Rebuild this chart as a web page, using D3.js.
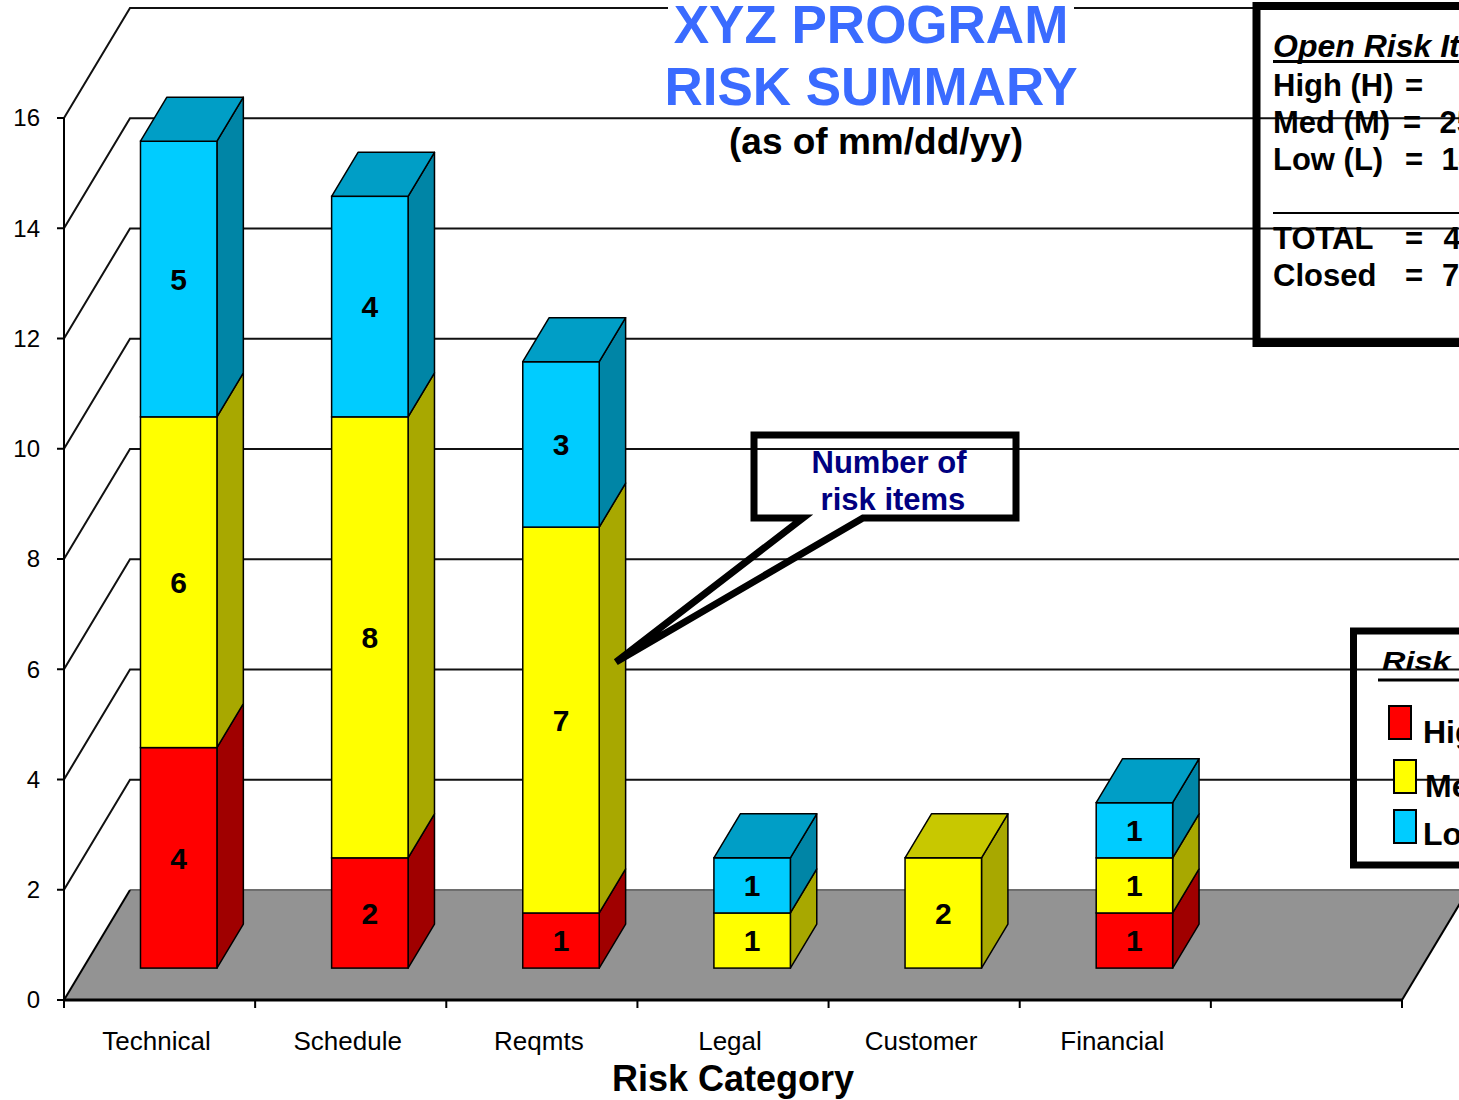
<!DOCTYPE html>
<html>
<head>
<meta charset="utf-8">
<script src="https://cdn.jsdelivr.net/npm/d3@7"></script>
<style>
  html, body { margin: 0; padding: 0; background: #fff; }
  svg { display: block; font-family: Arial, "Liberation Sans", sans-serif; }
</style>
</head>
<body>
<svg id="chart" width="1459" height="1100"></svg>
<script>
// ---- data ----
const categories = ["Technical", "Schedule", "Reqmts", "Legal", "Customer", "Financial"];
const highRisk = [4, 2, 1, 0, 0, 1];
const medRisk  = [6, 8, 7, 1, 2, 1];
const lowRisk  = [5, 4, 3, 1, 0, 1];
const closedItems = 7;
const yTickValues = [0, 2, 4, 6, 8, 10, 12, 14, 16];
const seriesNames = ["High", "Med", "Low"];

// ---- appearance ----
const palette = {
  High: { front: "#FF0000", side: "#A00000", top: "#C80000" },
  Med:  { front: "#FFFF00", side: "#A8A800", top: "#C8C800" },
  Low:  { front: "#00CCFF", side: "#0085A6", top: "#009EC6" }
};

const svg = d3.select("#chart");

// plot frame (front plane) and depth projection
const plot = { left: 64, right: 1402, bottom: 1000, top: 118 };
const depth = { dx: 66, dy: -110 };   // full depth of the floor / walls
const barZ = [0.29, 0.69];            // bar front and back, as fractions of depth

const slots = [...categories, ""];    // one trailing empty slot on the category axis
const x = d3.scaleBand().domain(d3.range(slots.length)).range([plot.left, plot.right]);
const y = d3.scaleLinear().domain([0, 16]).range([plot.bottom, plot.top]);

const P = (px, v, z) => [px + depth.dx * z, y(v) + depth.dy * z];
const pts = arr => arr.map(p => p.join(",")).join(" ");

// ---- walls and floor ----
const gWall = svg.append("g");
const floorBackY = y(0) + depth.dy;
gWall.append("polygon")
  .attr("points", pts([P(plot.left, 0, 0), P(plot.left, 0, 1), P(plot.right, 0, 1), P(plot.right, 0, 0)]))
  .attr("fill", "#939393").attr("stroke", "none");
gWall.append("line")
  .attr("x1", plot.left + depth.dx).attr("x2", plot.right + depth.dx)
  .attr("y1", floorBackY).attr("y2", floorBackY)
  .attr("stroke", "#6e6e6e").attr("stroke-width", 2);
[plot.left, plot.right].forEach(px => {
  const a = P(px, 0, 0), b = P(px, 0, 1);
  gWall.append("line").attr("x1", a[0]).attr("y1", a[1]).attr("x2", b[0]).attr("y2", b[1])
    .attr("stroke", "#000").attr("stroke-width", 2);
});

// gridlines on the side wall and back wall
yTickValues.filter(v => v > 0).forEach(v => {
  const a = P(plot.left, v, 0), b = P(plot.left, v, 1), c = P(plot.right, v, 1);
  gWall.append("polyline")
    .attr("points", pts([a, b, c]))
    .attr("fill", "none").attr("stroke", "#111").attr("stroke-width", 2);
});

// ---- title ----
const gTitle = svg.append("g");
gTitle.append("rect").attr("x", 668).attr("y", 0).attr("width", 406).attr("height", 46).attr("fill", "#fff");
gTitle.append("text").attr("x", 871).attr("y", 43).attr("text-anchor", "middle")
  .attr("font-size", 53).attr("font-weight", "bold").attr("fill", "#3A6BFF").text("XYZ PROGRAM");
gTitle.append("text").attr("x", 871).attr("y", 105).attr("text-anchor", "middle")
  .attr("font-size", 53).attr("font-weight", "bold").attr("fill", "#3A6BFF").text("RISK SUMMARY");
gTitle.append("text").attr("x", 876).attr("y", 154).attr("text-anchor", "middle")
  .attr("font-size", 37).attr("font-weight", "bold").attr("fill", "#000").text("(as of mm/dd/yy)");

// ---- axes ----
const gAxis = svg.append("g");
gAxis.append("line").attr("x1", plot.left).attr("x2", plot.left)
  .attr("y1", y(0)).attr("y2", y(16)).attr("stroke", "#000").attr("stroke-width", 2);
yTickValues.forEach(v => {
  gAxis.append("line").attr("x1", plot.left - 7).attr("x2", plot.left)
    .attr("y1", y(v)).attr("y2", y(v)).attr("stroke", "#000").attr("stroke-width", 2);
  gAxis.append("text").attr("x", 40).attr("y", y(v)).attr("dy", "0.35em")
    .attr("text-anchor", "end").attr("font-size", 24).attr("fill", "#000").text(v);
});
gAxis.append("line").attr("x1", plot.left).attr("x2", plot.right)
  .attr("y1", y(0)).attr("y2", y(0)).attr("stroke", "#000").attr("stroke-width", 3);
d3.range(slots.length + 1).forEach(i => {
  const px = plot.left + i * x.step();
  gAxis.append("line").attr("x1", px).attr("x2", px)
    .attr("y1", y(0)).attr("y2", y(0) + 8).attr("stroke", "#000").attr("stroke-width", 2);
});
slots.forEach((c, i) => {
  if (!c) return;
  gAxis.append("text").attr("x", x(i) + x.bandwidth() / 2 - 3).attr("y", 1050)
    .attr("text-anchor", "middle").attr("font-size", 26).attr("fill", "#000").text(c);
});
gAxis.append("text").attr("x", (plot.left + plot.right) / 2).attr("y", 1091)
  .attr("text-anchor", "middle").attr("font-size", 36).attr("font-weight", "bold")
  .attr("fill", "#000").text("Risk Category");

// ---- stacked 3D bars ----
const rows = categories.map((c, i) => ({ High: highRisk[i], Med: medRisk[i], Low: lowRisk[i] }));
const stacked = d3.stack().keys(seriesNames)(rows);
const barW = x.bandwidth() * 0.4;
const gBars = svg.append("g");
const [zf, zb] = barZ;

categories.forEach((c, i) => {
  const xl = x(i) + (x.bandwidth() - barW) / 2;
  const xr = xl + barW;
  const segs = stacked.map(s => ({ key: s.key, v0: s[i][0], v1: s[i][1] })).filter(s => s.v1 > s.v0);
  const g = gBars.append("g");
  segs.forEach((s, k) => {
    const col = palette[s.key];
    // side face
    g.append("polygon")
      .attr("points", pts([P(xr, s.v0, zf), P(xr, s.v0, zb), P(xr, s.v1, zb), P(xr, s.v1, zf)]))
      .attr("fill", col.side).attr("stroke", "#000").attr("stroke-width", 1.5).attr("stroke-linejoin", "round");
    // front face
    const a = P(xl, s.v1, zf), b = P(xr, s.v0, zf);
    g.append("rect").attr("x", a[0]).attr("y", a[1]).attr("width", b[0] - a[0]).attr("height", b[1] - a[1])
      .attr("fill", col.front).attr("stroke", "#000").attr("stroke-width", 1.5);
    // top face on the highest segment only
    if (k === segs.length - 1) {
      g.append("polygon")
        .attr("points", pts([P(xl, s.v1, zf), P(xr, s.v1, zf), P(xr, s.v1, zb), P(xl, s.v1, zb)]))
        .attr("fill", col.top).attr("stroke", "#000").attr("stroke-width", 1.5).attr("stroke-linejoin", "round");
    }
  });
  // value labels
  segs.forEach(s => {
    const a = P((xl + xr) / 2, (s.v0 + s.v1) / 2, zf);
    g.append("text").attr("x", a[0]).attr("y", a[1]).attr("dy", "0.36em")
      .attr("text-anchor", "middle").attr("font-size", 30).attr("font-weight", "bold")
      .attr("fill", "#000").text(s.v1 - s.v0);
  });
});

// ---- callout ----
const gCall = svg.append("g");
gCall.append("path")
  .attr("d", "M754,435 H1016 V518 H863 L616,662 L803,518 H754 Z")
  .attr("fill", "none").attr("stroke", "#000").attr("stroke-width", 7).attr("stroke-linejoin", "miter")
  .attr("stroke-miterlimit", 4);
gCall.append("text").attr("x", 889).attr("y", 473).attr("text-anchor", "middle")
  .attr("font-size", 31).attr("font-weight", "bold").attr("fill", "#000080").text("Number of");
gCall.append("text").attr("x", 893).attr("y", 510).attr("text-anchor", "middle")
  .attr("font-size", 31).attr("font-weight", "bold").attr("fill", "#000080").text("risk items");

// ---- open risk summary box ----
const totHigh = d3.sum(highRisk), totMed = d3.sum(medRisk), totLow = d3.sum(lowRisk);
const gSum = svg.append("g").attr("font-size", 31).attr("font-weight", "bold").attr("fill", "#000");
gSum.append("rect").attr("x", 1256.5).attr("y", 6).attr("width", 320).attr("height", 337)
  .attr("fill", "none").attr("stroke", "#000").attr("stroke-width", 8);
gSum.append("text").attr("x", 1273).attr("y", 57).attr("font-style", "italic").attr("font-size", 32)
  .text("Open Risk Items");
gSum.append("line").attr("x1", 1273).attr("x2", 1560).attr("y1", 61.5).attr("y2", 61.5)
  .attr("stroke", "#000").attr("stroke-width", 3);
const sumRows = [
  { label: "High (H)", value: totHigh, y: 96, eqX: 1405, valX: 1476, anchor: "end" },
  { label: "Med (M)", value: totMed, y: 133, eqX: 1403, valX: 1474, anchor: "end" },
  { label: "Low (L)", value: totLow, y: 170, eqX: 1405, valX: 1476, anchor: "end" },
  { label: "TOTAL", value: totHigh + totMed + totLow, y: 249, eqX: 1405, valX: 1478, anchor: "end" },
  { label: "Closed", value: closedItems, y: 286, eqX: 1405, valX: 1442, anchor: "start" }
];
sumRows.forEach(r => {
  gSum.append("text").attr("x", 1273).attr("y", r.y).text(r.label);
  gSum.append("text").attr("x", r.eqX).attr("y", r.y).text("=");
  gSum.append("text").attr("x", r.valX).attr("y", r.y).attr("text-anchor", r.anchor).text(r.value);
});
gSum.append("line").attr("x1", 1273).attr("x2", 1560).attr("y1", 213).attr("y2", 213)
  .attr("stroke", "#000").attr("stroke-width", 2);

// ---- legend ----
const gLeg = svg.append("g");
gLeg.append("rect").attr("x", 1353.5).attr("y", 631).attr("width", 200).attr("height", 234)
  .attr("fill", "none").attr("stroke", "#000").attr("stroke-width", 7);
gLeg.append("text").attr("transform", "translate(1382,670) scale(1.25,1)")
  .attr("font-size", 26).attr("font-weight", "bold").attr("font-style", "italic").text("Risk Level");
gLeg.append("line").attr("x1", 1378).attr("x2", 1560).attr("y1", 680).attr("y2", 680)
  .attr("stroke", "#000").attr("stroke-width", 3);
const legItems = [
  { key: "High", sx: 1389, sy: 706, tx: 1423, ty: 743 },
  { key: "Med",  sx: 1394, sy: 760, tx: 1425, ty: 797 },
  { key: "Low",  sx: 1394, sy: 810, tx: 1423, ty: 845 }
];
legItems.forEach(d => {
  gLeg.append("rect").attr("x", d.sx).attr("y", d.sy).attr("width", 22).attr("height", 33)
    .attr("fill", palette[d.key].front).attr("stroke", "#000").attr("stroke-width", 2);
  gLeg.append("text").attr("x", d.tx).attr("y", d.ty).attr("font-size", 32).attr("font-weight", "bold")
    .text(d.key);
});
</script>
</body>
</html>
